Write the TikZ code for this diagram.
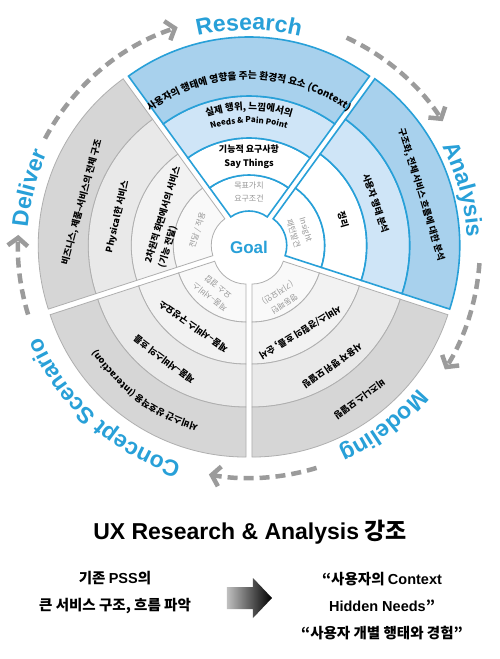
\documentclass[tikz,border=0pt]{standalone}
\usepackage{fontspec}
\setmainfont{Noto Sans CJK KR}
\newfontfamily\lat{Liberation Sans}
\usetikzlibrary{arrows.meta}
\usetikzlibrary{decorations.text}

\definecolor{ublue}{RGB}{40,160,216}
\definecolor{bluemid}{RGB}{168,209,237}
\definecolor{bluepale}{RGB}{207,229,247}
\definecolor{grayline}{RGB}{175,175,175}
\definecolor{grayA}{RGB}{249,249,249}
\definecolor{grayB}{RGB}{242,242,242}
\definecolor{grayC}{RGB}{233,233,233}
\definecolor{grayD}{RGB}{214,214,214}
\definecolor{txtgray}{RGB}{150,150,150}
\definecolor{dashgray}{RGB}{155,155,155}

\tikzset{
	blue ring/.style = {draw=ublue, line width=1.6pt},
	gray ring/.style = {draw=grayline, line width=0.8pt},
	ringtxt/.style = {inner sep=0pt, align=center,
		font=\fontsize{9}{14}\selectfont\bfseries},
	innertxt/.style = {inner sep=0pt, align=center, text=txtgray,
		font=\fontsize{8}{13}\selectfont},
	flow/.style = {draw=dashgray, line width=4.5pt, dash pattern=on 10pt off 6pt,
		-{Straight Barb[length=8pt,width=20pt]}}
}

% one ring of a sector: mid angle, inner r, outer r, fill, style
\newcommand{\ringpart}[5]{%
	\draw[#5, fill=#4, shift={(#1:5)}] (#1+36:#2) arc[start angle=#1+36, end angle=#1-36, radius=#2]
		-- (#1-36:#3) arc[start angle=#1-36, end angle=#1+36, radius=#3] -- cycle;}
% text bent along a circle: mid angle, radius, format, text
\newcommand{\bendtext}[4]{%
	\path[decorate, decoration={text along path, text align=center, text={|#3|#4}}]
		(#1+80:#2) arc[start angle=#1+80, end angle=#1-80, radius=#2];}
\newcommand{\ringfont}{\fontsize{9}{9}\selectfont\bfseries}
\newcommand{\phasefont}{\lat\bfseries\fontsize{23}{23}\selectfont\color{ublue}}

\begin{document}
\begin{tikzpicture}[x=1pt, y=1pt]
	\fill[white] (-249,-412) rectangle (251,247);
	\useasboundingbox (-249,-412) rectangle (251,247);

	% Deliver, Concept Scenario, Modeling
	\foreach \m in {162,234,306}{
		\ringpart{\m}{33}{71}{grayA}{gray ring}
		\ringpart{\m}{71}{113}{grayB}{gray ring}
		\ringpart{\m}{113}{156}{grayC}{gray ring}
		\ringpart{\m}{156}{206}{grayD}{gray ring}
	}
	% Research
	\ringpart{90}{31}{67}{white}{blue ring}
	\ringpart{90}{67}{104}{white}{blue ring}
	\ringpart{90}{104}{146}{bluepale}{blue ring}
	\ringpart{90}{146}{205}{bluemid}{blue ring}
	% Analysis
	\ringpart{18}{33}{71}{white}{blue ring}
	\ringpart{18}{71}{113}{white}{blue ring}
	\ringpart{18}{113}{156}{bluepale}{blue ring}
	\ringpart{18}{156}{206}{bluemid}{blue ring}

	\node[font=\lat\bfseries\fontsize{17}{17}\selectfont, text=ublue] (goal) at (0,0) {Goal};

	% Research
	\node[innertxt] (res-goal) at (90:55) {목표가치\\요구조건};
	\node[ringtxt] (res-say) at (90:90) {기능적 요구사항\\Say Things};
	\bendtext{90}{124}{\fontsize{8}{8}\selectfont\bfseries}{Needs {\&} Pain Point}
	\bendtext{90}{137}{\fontsize{9.5}{9.5}\selectfont\bfseries}{실제 행위, 느낌에서의}
	\bendtext{90}{168}{\fontsize{9.7}{9.7}\selectfont\bfseries}{사용자의 행태에 영향을 주는 환경적 요소 (Context)}

	% Analysis
	\node[innertxt, rotate=-73] (ana-insight) at (17:53) {Insight\\패턴발견};
	\node[ringtxt, rotate=-74] (ana-sort) at (16:98) {정리};
	\node[ringtxt, rotate=-71] (ana-user) at (19:134) {사용자 행태 분석};
	\node[ringtxt, rotate=-73] (ana-flow) at (17:180) {구조화, 전체 서비스 흐름에 대한 분석};

	% Modeling
	\node[innertxt, rotate=-148] (mod-pattern) at (-58:60) {행동패턴\\(기저요인)};
	\node[ringtxt, rotate=-149] (mod-flow) at (-59:99) {서비스/경험의 흐름, 순서};
	\node[ringtxt, rotate=-145] (mod-user) at (-55:145) {사용자 행위 모델링};
	\node[ringtxt, rotate=-144] (mod-biz) at (-54:188) {비즈니스 모델링};

	% Concept Scenario
	\node[innertxt, rotate=142] (con-mix) at (232:57) {제품–서비스\\요소 결합};
	\node[ringtxt, rotate=145] (con-parts) at (235:97) {제품–서비스 구성요소};
	\node[ringtxt, rotate=143] (con-flow) at (233:141) {제품–서비스의 흐름};
	\bendtext{234}{184}{\ringfont}{서비스간 상호작용 (Interaction)}

	% Deliver
	\node[innertxt, rotate=72] (del-apply) at (162:54) {전달 / 적용};
	\node[ringtxt, rotate=73, align=left, anchor=west] (del-screen) at (191:96)
		{2차원적 화면에서의 서비스\\(기능 전달)};
	\node[ringtxt, rotate=77] (del-phys) at (167:135) {Physical한 서비스};
	\node[ringtxt, rotate=75] (del-biz) at (165:173) {비즈니스, 제품–서비스의 전체 구조};

	% phase names
	\bendtext{90}{217}{\phasefont}{Research}
	\bendtext{15}{218}{\phasefont}{Analysis}
	\bendtext{-53}{221}{\phasefont}{Modeling}
	\bendtext{228}{227}{\phasefont}{Concept Scenario}
	\bendtext{165}{222}{\phasefont}{Deliver}

	% cycle arrows
	\coordinate (f1) at (152:231);
	\coordinate (f2) at (65:231);
	\coordinate (f3) at (-4:231);
	\coordinate (f4) at (-73:231);
	\coordinate (f5) at (197:231);
	\draw[flow] (f1) arc[start angle=152, end angle=108, radius=231];
	\draw[flow] (f2) arc[start angle=65, end angle=33, radius=231];
	\draw[flow] (f3) arc[start angle=-4, end angle=-32, radius=231];
	\draw[flow] (f4) arc[start angle=-73, end angle=-100, radius=231];
	\draw[flow] (f5) arc[start angle=197, end angle=177, radius=231];

	% summary below
	\node[font=\bfseries\fontsize{23}{23}\selectfont] (title) at (1,-285)
		{{\lat UX Research \& Analysis} 강조};
	\node[align=center, font=\bfseries\fontsize{14.5}{27}\selectfont] (before) at (-134,-346)
		{기존 {\lat PSS}의\\큰 서비스 구조, 흐름 파악};
	\shade[left color=black!25, right color=black] (-22,-340) -- (4,-340) -- (4,-331)
		-- (23,-351) -- (4,-371) -- (4,-362) -- (-22,-362) -- cycle;
	\node[align=center, font=\bfseries\fontsize{14.5}{27}\selectfont] (after) at (133,-359)
		{“사용자의 {\lat Context}\\{\lat Hidden Needs}”\\“사용자 개별 행태와 경험”};
\end{tikzpicture}
\end{document}
